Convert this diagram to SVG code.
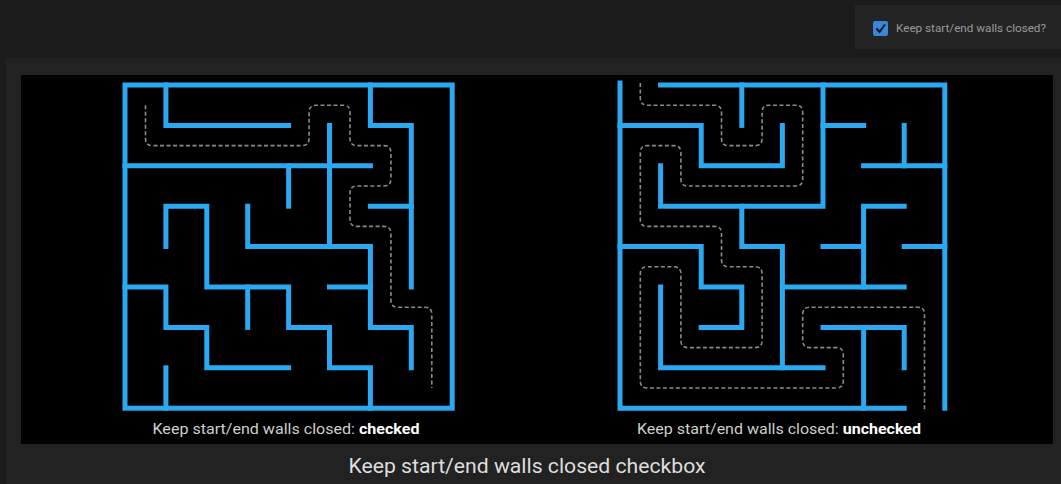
<svg xmlns="http://www.w3.org/2000/svg" width="1061" height="484" viewBox="0 0 1061 484">
<style>
.wall{fill:none;stroke:#2aa8f0;stroke-width:5;stroke-linecap:square;stroke-linejoin:miter}
.sol{fill:none;stroke:#8a8a8a;stroke-width:1.6;stroke-dasharray:4 2.5}
.cap{font-family:Roboto,"Liberation Sans",sans-serif;font-size:14px;fill:#cfcfcf}
.capb{font-weight:bold;fill:#ffffff}
</style>
<rect x="0" y="0" width="1061" height="484" fill="#1b1b1b"/>
<rect x="855" y="5" width="206" height="44" fill="#242424"/>
<rect x="6" y="58" width="1055" height="426" fill="#222222"/>
<rect x="21" y="75" width="1032" height="369" fill="#000000"/>

<g id="setting-checkbox">
<rect x="873" y="21" width="15" height="15" rx="2" fill="#3a86d8"/>
<polyline points="876.5,28.5 879.5,32 885,24.5" fill="none" stroke="#0c1626" stroke-width="2"/>
<text x="896" y="32" font-family="Roboto,'Liberation Sans',sans-serif" font-size="11" fill="#9a9a9a" textLength="150" lengthAdjust="spacingAndGlyphs">Keep start/end walls closed?</text>
</g>

<g id="maze-checked">
<rect class="wall" x="125" y="85" width="327.2" height="323.2"/>
<polyline class="wall" points="165.9,85 165.9,125.4 288.6,125.4"/>
<polyline class="wall" points="125,165.8 370.4,165.8"/>
<polyline class="wall" points="329.5,125.4 329.5,246.6"/>
<polyline class="wall" points="288.6,165.8 288.6,206.2"/>
<polyline class="wall" points="370.4,85 370.4,125.4 411.3,125.4 411.3,287"/>
<polyline class="wall" points="370.4,206.2 411.3,206.2"/>
<polyline class="wall" points="165.9,246.6 165.9,206.2 206.8,206.2 206.8,287 288.6,287 288.6,327.4 329.5,327.4 329.5,367.8 370.4,367.8 370.4,408.2"/>
<polyline class="wall" points="247.7,206.2 247.7,246.6 370.4,246.6 370.4,327.4 411.3,327.4 411.3,367.8"/>
<polyline class="wall" points="329.5,287 370.4,287"/>
<polyline class="wall" points="247.7,287 247.7,327.4"/>
<polyline class="wall" points="125,287 165.9,287 165.9,327.4 206.8,327.4 206.8,367.8 288.6,367.8"/>
<polyline class="wall" points="165.9,367.8 165.9,408.2"/>
<path class="sol" d="M145.5,105.2 L145.5,138.6 Q145.5,145.6 152.5,145.6 L302.1,145.6 Q309.1,145.6 309.1,138.6 L309.1,112.2 Q309.1,105.2 316.1,105.2 L343,105.2 Q350,105.2 350,112.2 L350,138.6 Q350,145.6 357,145.6 L383.9,145.6 Q390.9,145.6 390.9,152.6 L390.9,179 Q390.9,186 383.9,186 L357,186 Q350,186 350,193 L350,219.4 Q350,226.4 357,226.4 L383.9,226.4 Q390.9,226.4 390.9,233.4 L390.9,300.2 Q390.9,307.2 397.9,307.2 L424.8,307.2 Q431.8,307.2 431.8,314.2 L431.8,388"/>
<text class="cap" x="286" y="434" text-anchor="middle" textLength="267" lengthAdjust="spacingAndGlyphs">Keep start/end walls closed: <tspan class="capb">checked</tspan></text>
</g>

<g id="maze-unchecked">
<polyline class="wall" points="660.6,85 944.8,85 944.8,408.2"/>
<polyline class="wall" points="904.2,408.2 620,408.2 620,83"/>
<polyline class="wall" points="741.8,85 741.8,125.4"/>
<polyline class="wall" points="620,125.4 701.2,125.4 701.2,165.8 782.4,165.8 782.4,125.4"/>
<polyline class="wall" points="823,85 823,206.2 660.6,206.2 660.6,165.8"/>
<polyline class="wall" points="823,125.4 863.6,125.4"/>
<polyline class="wall" points="904.2,125.4 904.2,165.8"/>
<polyline class="wall" points="863.6,165.8 944.8,165.8"/>
<polyline class="wall" points="904.2,206.2 863.6,206.2 863.6,287"/>
<polyline class="wall" points="620,246.6 701.2,246.6 701.2,287 741.8,287 741.8,327.4 701.2,327.4"/>
<polyline class="wall" points="741.8,206.2 741.8,246.6 782.4,246.6 782.4,367.8"/>
<polyline class="wall" points="660.6,287 660.6,367.8 823,367.8"/>
<polyline class="wall" points="823,246.6 863.6,246.6"/>
<polyline class="wall" points="904.2,246.6 944.8,246.6"/>
<polyline class="wall" points="782.4,287 904.2,287"/>
<polyline class="wall" points="823,327.4 904.2,327.4 904.2,367.8"/>
<polyline class="wall" points="863.6,327.4 863.6,408.2"/>
<path class="sol" d="M640.3,83 L640.3,98.2 Q640.3,105.2 647.3,105.2 L714.5,105.2 Q721.5,105.2 721.5,112.2 L721.5,138.6 Q721.5,145.6 728.5,145.6 L755.1,145.6 Q762.1,145.6 762.1,138.6 L762.1,112.2 Q762.1,105.2 769.1,105.2 L795.7,105.2 Q802.7,105.2 802.7,112.2 L802.7,179 Q802.7,186 795.7,186 L687.9,186 Q680.9,186 680.9,179 L680.9,152.6 Q680.9,145.6 673.9,145.6 L647.3,145.6 Q640.3,145.6 640.3,152.6 L640.3,219.4 Q640.3,226.4 647.3,226.4 L714.5,226.4 Q721.5,226.4 721.5,233.4 L721.5,259.8 Q721.5,266.8 728.5,266.8 L755.1,266.8 Q762.1,266.8 762.1,273.8 L762.1,340.6 Q762.1,347.6 755.1,347.6 L687.9,347.6 Q680.9,347.6 680.9,340.6 L680.9,273.8 Q680.9,266.8 673.9,266.8 L647.3,266.8 Q640.3,266.8 640.3,273.8 L640.3,381 Q640.3,388 647.3,388 L836.3,388 Q843.3,388 843.3,381 L843.3,354.6 Q843.3,347.6 836.3,347.6 L809.7,347.6 Q802.7,347.6 802.7,340.6 L802.7,314.2 Q802.7,307.2 809.7,307.2 L917.5,307.2 Q924.5,307.2 924.5,314.2 L924.5,412"/>
<text class="cap" x="779" y="434" text-anchor="middle" textLength="284" lengthAdjust="spacingAndGlyphs">Keep start/end walls closed: <tspan class="capb">unchecked</tspan></text>
</g>

<g id="figure-caption">
<text x="527" y="473" text-anchor="middle" font-family="Roboto,'Liberation Sans',sans-serif" font-size="20" fill="#dedede" textLength="357" lengthAdjust="spacingAndGlyphs">Keep start/end walls closed checkbox</text>
</g>
</svg>
